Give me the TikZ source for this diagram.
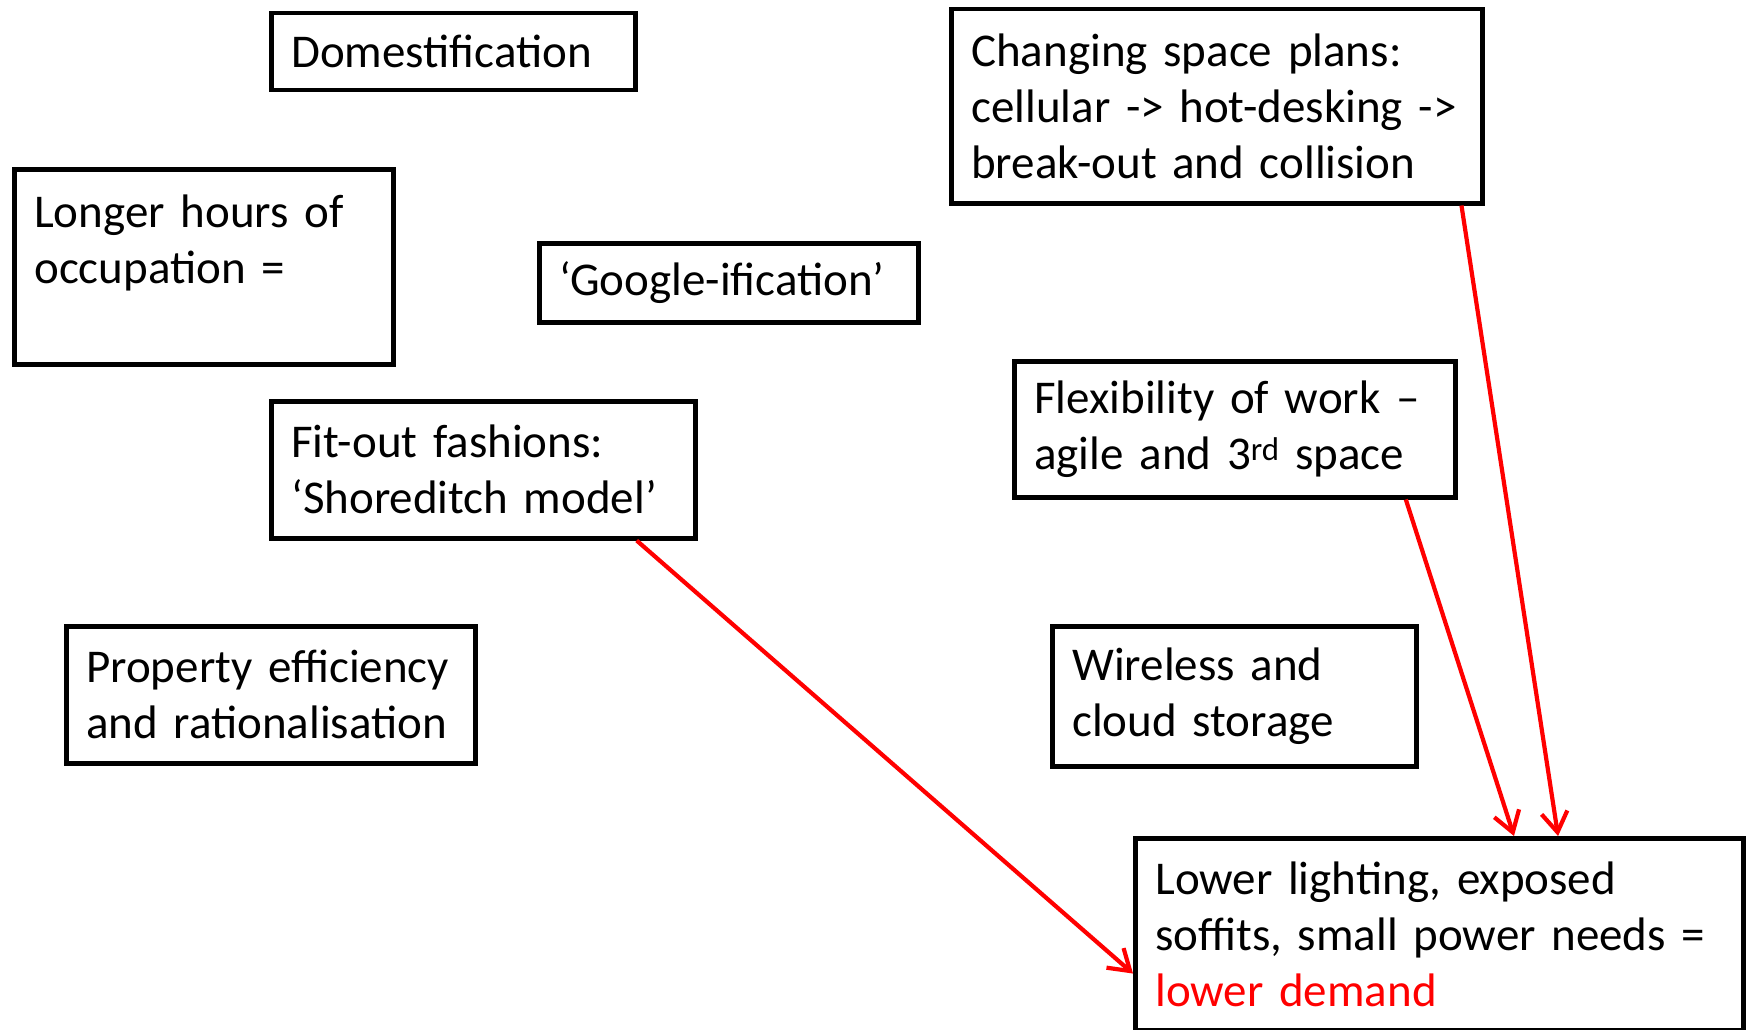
\documentclass[tikz,border=0pt]{standalone}
\usepackage{fontspec}
\setmainfont{Carlito}
\usetikzlibrary{arrows.meta,calc}
\begin{document}
\begin{tikzpicture}[x=1pt,y=-1pt,
  box/.style={draw=black, line width=4.5pt, anchor=north west, align=left,
    inner xsep=20pt, inner ysep=0pt, font=\fontsize{47}{56}\selectfont},
  link/.style={draw=red, line width=4.2pt,
    -{Straight Barb[length=20pt,width=26pt,line width=4.2pt]}}]
\useasboundingbox (0,0) rectangle (1748,1030);
\node[box, text width=324pt, minimum height=77pt] (dom) at (269,11) {\mbox{Domestification}};
\node[box, text width=339pt, minimum height=195pt] (long) at (12,167) {\mbox{Longer hours of}\\\mbox{occupation =}\\\mbox{}};
\node[box, text width=339pt, minimum height=79pt] (goog) at (537,241) {\mbox{‘Google-ification’}};
\node[box, text width=384pt, minimum height=137pt] (fit) at (269,399) {\mbox{Fit-out fashions:}\\\mbox{‘Shoreditch model’}};
\node[box, text width=369pt, minimum height=137pt] (prop) at (64,624) {\mbox{Property efficiency}\\\mbox{and rationalisation}};
\node[box, text width=491pt, minimum height=194pt] (chg) at (949,7) {\mbox{Changing space plans:}\\\mbox{cellular -{}> hot-desking -{}>}\\\mbox{break-out and collision}};
\node[box, text width=401pt, minimum height=136pt] (flex) at (1012,359) {\mbox{Flexibility of work –}\\\mbox{agile and 3\textsuperscript{rd} space}};
\node[box, text width=324pt, minimum height=140pt] (wire) at (1050,624) {\mbox{Wireless and}\\\mbox{cloud storage}};
\node[box, text width=568pt, minimum height=192pt] (low) at (1133,836) {\mbox{Lower lighting, exposed}\\\mbox{soffits, small power needs =}\\\mbox{\textcolor{red}{lower demand}}};
\draw[link] ($(fit.south west)!0.858!(fit.south east)$) -- ($(low.north west)!0.70!(low.south west)$);
\draw[link] ($(flex.south west)!0.884!(flex.south east)$) -- ($(low.north west)!0.622!(low.north east)$);
\draw[link] ($(chg.south west)!0.957!(chg.south east)$) -- ($(low.north west)!0.694!(low.north east)$);
\end{tikzpicture}
\end{document}
